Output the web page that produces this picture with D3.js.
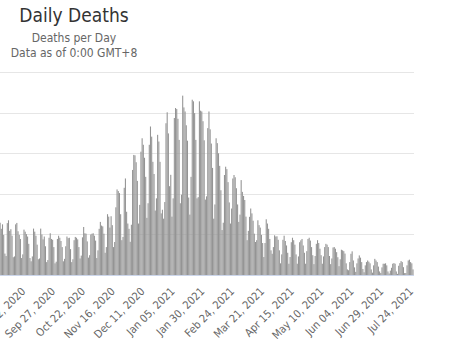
<!DOCTYPE html>
<html>
<head>
<meta charset="utf-8">
<script src="https://cdn.jsdelivr.net/npm/d3@7/dist/d3.min.js"></script>
<style>
  html, body { margin: 0; padding: 0; background: #fff; }
  svg { display: block; font-family: "DejaVu Sans Condensed", "DejaVu Sans", sans-serif; font-stretch: condensed; }
</style>
</head>
<body>
<svg id="chart" width="463" height="347"></svg>
<script>
// Daily deaths, one value per day starting on the first date below
const firstDay = "2020-08-12";
const deaths = [
  1300, 1150, 1260, 1000,
  540, 480, 1290, 1360, 1100, 1140, 980,
  450, 470, 1260, 1295, 1090, 1000, 900,
  430, 520, 1130, 1080, 1020, 960, 780,
  430, 350, 470, 1155, 1080, 980, 760,
  400, 420, 1155, 1010, 890, 960, 720,
  330, 380, 930, 1040, 900, 880, 700,
  300, 340, 900, 980, 930, 850, 700,
  350, 410, 720, 960, 920, 930, 650,
  330, 400, 870, 950, 930, 890, 700,
  420, 490, 940, 1195, 1040, 1030, 840,
  440, 500, 1010, 1030, 1040, 980, 860,
  430, 620, 1150, 1320, 1230, 1210, 1030,
  560, 700, 1510, 1450, 1180, 1460, 1240,
  700, 825, 1680, 2120, 2080, 2030, 1510,
  870, 950, 2160, 2390, 1570, 1280, 1150,
  830, 1250, 2600, 2970, 2960, 2790, 2330,
  1280, 1740, 3050, 3380, 3220, 2900, 2430,
  1420, 1780, 3220, 3670, 3420, 2800, 2500,
  1600, 1900, 3465, 3300, 2800, 1530, 1620,
  1400, 1810, 3750, 4020, 3500, 2200, 2480,
  1450, 1900, 3880, 4125, 4100, 3860, 3340,
  1780, 1990, 4430, 4140, 4040, 3700, 3320,
  1920, 1500, 2430, 4330, 4290, 4000, 3340,
  1900, 1930, 4290, 4060, 4040, 3800, 3330,
  1870, 1950, 3630, 4040, 3600, 3250, 2650,
  1400, 1750, 3380, 3260, 3010, 2700, 2100,
  1120, 1300, 2475, 2680, 2620, 2300, 1800,
  1280, 1650, 2390, 2475, 2420, 2150, 1750,
  1320, 1500, 2350, 2060, 1960, 1860, 1450,
  870, 1100, 1445, 1650, 1530, 1350, 1030,
  825, 870, 1360, 1240, 1180, 1000, 800,
  455, 800, 1385, 1280, 1150, 900, 620,
  535, 700, 990, 960, 965, 880, 620,
  300, 520, 880, 980, 850, 740, 560,
  290, 455, 820, 930, 870, 760, 520,
  290, 470, 820, 866, 900, 740, 560,
  290, 600, 900, 930, 860, 700, 500,
  280, 480, 780, 870, 800, 660, 500,
  290, 470, 700, 780, 760, 700, 480,
  280, 420, 690, 700, 660, 575, 450,
  230, 400, 635, 620, 600, 540, 300,
  150, 130, 330, 535, 595, 370, 200,
  90, 300, 420, 495, 440, 330, 160,
  80, 250, 330, 370, 340, 300, 150,
  70, 250, 410, 370, 330, 220, 100,
  60, 200, 290, 290, 300, 250, 100,
  50, 120, 190, 290, 305, 290, 100,
  40, 240, 305, 355, 330, 205, 60,
  60, 250, 370, 390, 330, 300, 150
];
// Category labels shown on the x axis (every 25th day)
const tickLabels = [
  "Sep 02, 2020", "Sep 27, 2020", "Oct 22, 2020", "Nov 16, 2020", "Dec 11, 2020",
  "Jan 05, 2021", "Jan 30, 2021", "Feb 24, 2021", "Mar 21, 2021", "Apr 15, 2021",
  "May 10, 2021", "Jun 04, 2021", "Jun 29, 2021", "Jul 24, 2021"
];
const yTicks = [0, 1000, 2000, 3000, 4000, 5000];
const title = "Daily Deaths";
const subtitle = ["Deaths per Day", "Data as of 0:00 GMT+8"];

const fmt = d3.timeFormat("%b %d, %Y");
const start = d3.timeParse("%Y-%m-%d")(firstDay);
const rows = deaths.map((v, i) => ({ day: fmt(d3.timeDay.offset(start, i)), value: v }));

const svg = d3.select("#chart");
const plotLeft = -0.47, plotRight = 413.6, plotTop = 72.5, plotBottom = 275.5;

const x = d3.scaleBand()
  .domain(rows.map(d => d.day))
  .range([plotLeft, plotRight])
  .paddingInner(0.1)
  .paddingOuter(0.05);

const y = d3.scaleLinear()
  .domain([0, 5000])
  .range([plotBottom, plotTop]);

// horizontal grid
svg.append("g")
  .selectAll("line")
  .data(yTicks.filter(t => t > 0))
  .join("line")
  .attr("x1", 0)
  .attr("x2", 414)
  .attr("y1", d => Math.floor(y(d)) + 0.5)
  .attr("y2", d => Math.floor(y(d)) + 0.5)
  .attr("stroke", "#e6e6e6")
  .attr("stroke-width", 1);

// columns
svg.append("g")
  .selectAll("rect")
  .data(rows)
  .join("rect")
  .attr("x", d => x(d.day))
  .attr("width", x.bandwidth())
  .attr("y", d => y(d.value))
  .attr("height", d => y(0) - y(d.value))
  .attr("fill", "#949494");

// x axis line
svg.append("line")
  .attr("x1", 0).attr("x2", 414)
  .attr("y1", Math.floor(y(0)) + 0.5).attr("y2", Math.floor(y(0)) + 0.5)
  .attr("stroke", "#ccd6eb")
  .attr("stroke-width", 1);

// rotated category labels
svg.append("g")
  .selectAll("text")
  .data(tickLabels)
  .join("text")
  .attr("transform", d => `translate(${x(d) + x.bandwidth() / 2 + 1},292) rotate(-45)`)
  .attr("text-anchor", "end")
  .attr("font-size", 11)
  .attr("fill", "#666666")
  .text(d => d);

// title and subtitle
svg.append("text")
  .attr("x", 74).attr("y", 21.5)
  .attr("text-anchor", "middle")
  .attr("font-size", 19)
  .attr("fill", "#333333")
  .text(title);

svg.append("g")
  .selectAll("text")
  .data(subtitle)
  .join("text")
  .attr("x", 74)
  .attr("y", (d, i) => 41.5 + i * 15)
  .attr("text-anchor", "middle")
  .attr("font-size", 12)
  .attr("fill", "#666666")
  .text(d => d);
</script>
</body>
</html>
